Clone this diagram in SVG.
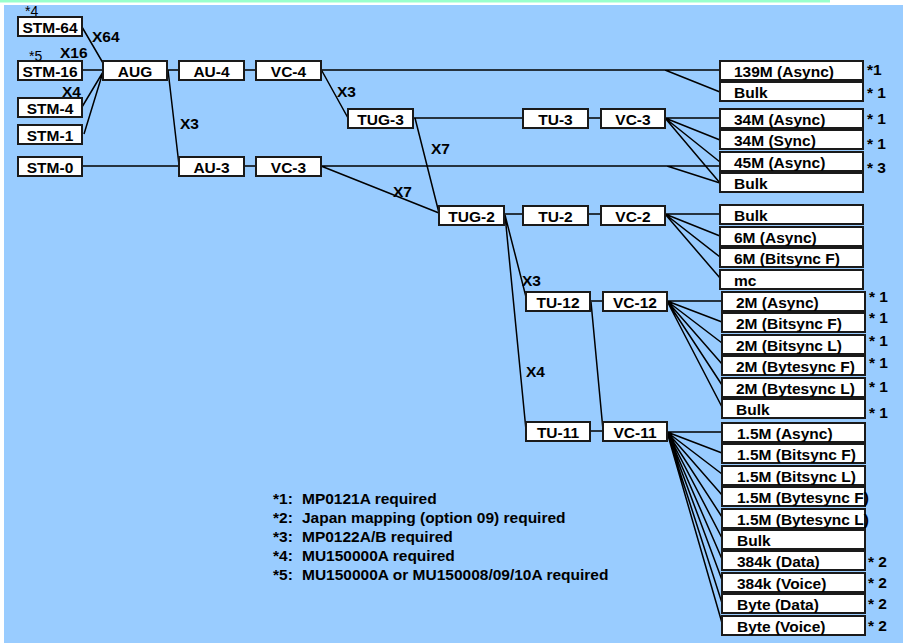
<svg xmlns="http://www.w3.org/2000/svg" width="903" height="643" viewBox="0 0 903 643">
<style>
.b{fill:#fff;stroke:#1a1a1a;stroke-width:2}
.t{font-family:"Liberation Sans",Arial,sans-serif;font-weight:bold;font-size:15.5px;fill:#000}
.m{text-anchor:middle}
.n{font-family:"Liberation Sans",Arial,sans-serif;font-size:14px;fill:#000}
#connectors path{stroke:#000;stroke-width:1.5;fill:none}
</style>
<rect x="0" y="0" width="903" height="643" fill="#fff"/>
<rect x="0" y="0" width="830" height="2.5" fill="#99ffcc"/>
<rect x="4" y="5" width="899" height="638" fill="#99ccff"/>
<g id="connectors">
<path d="M82,27 L103,63 M82,70 H103 M82,107 L103,72 M84,134 L103,72"/>
<path d="M167,70 H179 M168,70 L179,165 M82,166 H179 M244,70 H256 M244,166 H256"/>
<path d="M321,70 H720 M665,70 L720,92 M322,71 L348,118"/>
<path d="M413,118 H523 M588,118 H601 M415,118 L439,213"/>
<path d="M321,166 H720 M667,166 L720,183 M321,166 L439,213"/>
<path d="M665,118 H720 M665,118 L720,140 M665,118 L720,162 M665,118 L720,183"/>
<path d="M504,214 H523 M588,214 H601"/>
<path d="M665,214 H720 M665,214 L720,236 M665,214 L720,257 M665,214 L720,278"/>
<path d="M505,215 L526,297 M505,215 L526,430 M590,301 H603 M591,302 L603,430 M590,431 H603"/>
<path d="M667,301 H722 M667,301 L722,322 M667,301 L722,343 M667,301 L722,364 M667,301 L722,385 M667,301 L722,407"/>
<path d="M667,432 H722 M667,432 L722,453 M667,432 L722,474 M667,432 L722,495 M667,432 L722,517 M667,432 L722,538 M667,432 L722,559 M667,432 L722,580 M667,432 L722,603 M667,432 L722,623"/>
</g>
<g id="stm64"><rect class="b" x="18" y="17" width="64" height="19"/><text class="t m" x="50" y="33">STM-64</text></g>
<g id="stm16"><rect class="b" x="18" y="61" width="64" height="19"/><text class="t m" x="50" y="77">STM-16</text></g>
<g id="stm4"><rect class="b" x="18" y="98" width="64" height="19"/><text class="t m" x="50" y="114">STM-4</text></g>
<g id="stm1"><rect class="b" x="18" y="125" width="64" height="19"/><text class="t m" x="50" y="141">STM-1</text></g>
<g id="stm0"><rect class="b" x="18" y="157" width="64" height="19"/><text class="t m" x="50" y="173">STM-0</text></g>
<g id="aug"><rect class="b" x="103" y="61" width="64" height="19"/><text class="t m" x="135" y="77">AUG</text></g>
<g id="au4"><rect class="b" x="179" y="61" width="65" height="19"/><text class="t m" x="211.5" y="77">AU-4</text></g>
<g id="vc4"><rect class="b" x="256" y="61" width="65" height="19"/><text class="t m" x="288.5" y="77">VC-4</text></g>
<g id="au3"><rect class="b" x="179" y="157" width="65" height="19"/><text class="t m" x="211.5" y="173">AU-3</text></g>
<g id="vc3a"><rect class="b" x="256" y="157" width="65" height="19"/><text class="t m" x="288.5" y="173">VC-3</text></g>
<g id="tug3"><rect class="b" x="348" y="109" width="65" height="19"/><text class="t m" x="380.5" y="125">TUG-3</text></g>
<g id="tu3"><rect class="b" x="523" y="109" width="65" height="19"/><text class="t m" x="555.5" y="125">TU-3</text></g>
<g id="vc3b"><rect class="b" x="601" y="109" width="64" height="19"/><text class="t m" x="633" y="125">VC-3</text></g>
<g id="tug2"><rect class="b" x="439" y="206" width="65" height="19"/><text class="t m" x="471.5" y="222">TUG-2</text></g>
<g id="tu2"><rect class="b" x="523" y="206" width="65" height="19"/><text class="t m" x="555.5" y="222">TU-2</text></g>
<g id="vc2"><rect class="b" x="601" y="206" width="64" height="19"/><text class="t m" x="633" y="222">VC-2</text></g>
<g id="tu12"><rect class="b" x="526" y="292" width="64" height="19"/><text class="t m" x="558" y="308">TU-12</text></g>
<g id="vc12"><rect class="b" x="603" y="292" width="64" height="19"/><text class="t m" x="635" y="308">VC-12</text></g>
<g id="tu11"><rect class="b" x="526" y="422" width="64" height="19"/><text class="t m" x="558" y="438">TU-11</text></g>
<g id="vc11"><rect class="b" x="603" y="422" width="64" height="19"/><text class="t m" x="635" y="438">VC-11</text></g>
<g id="r139m"><rect class="b" x="720" y="61" width="143" height="19"/><text class="t" x="734" y="77">139M (Async)</text></g>
<g id="rbulk1"><rect class="b" x="720" y="82" width="143" height="19"/><text class="t" x="734" y="98">Bulk</text></g>
<g id="r34ma"><rect class="b" x="720" y="109" width="143" height="19"/><text class="t" x="734" y="125">34M (Async)</text></g>
<g id="r34ms"><rect class="b" x="720" y="130" width="143" height="19"/><text class="t" x="734" y="146">34M (Sync)</text></g>
<g id="r45m"><rect class="b" x="720" y="152" width="143" height="19"/><text class="t" x="734" y="168">45M (Async)</text></g>
<g id="rbulk2"><rect class="b" x="720" y="173" width="143" height="19"/><text class="t" x="734" y="189">Bulk</text></g>
<g id="rbulk3"><rect class="b" x="720" y="205" width="143" height="19"/><text class="t" x="734" y="221">Bulk</text></g>
<g id="r6ma"><rect class="b" x="720" y="227" width="143" height="19"/><text class="t" x="734" y="243">6M (Async)</text></g>
<g id="r6mb"><rect class="b" x="720" y="248" width="143" height="19"/><text class="t" x="734" y="264">6M (Bitsync F)</text></g>
<g id="rmc"><rect class="b" x="720" y="270" width="143" height="19"/><text class="t" x="734" y="286">mc</text></g>
<g id="r2ma"><rect class="b" x="722" y="292" width="143" height="19"/><text class="t" x="736" y="308">2M (Async)</text></g>
<g id="r2mbf"><rect class="b" x="722" y="313" width="143" height="19"/><text class="t" x="736" y="329">2M (Bitsync F)</text></g>
<g id="r2mbl"><rect class="b" x="722" y="335" width="143" height="19"/><text class="t" x="736" y="351">2M (Bitsync L)</text></g>
<g id="r2myf"><rect class="b" x="722" y="356" width="143" height="19"/><text class="t" x="736" y="372">2M (Bytesync F)</text></g>
<g id="r2myl"><rect class="b" x="722" y="378" width="143" height="19"/><text class="t" x="736" y="394">2M (Bytesync L)</text></g>
<g id="rbulk4"><rect class="b" x="722" y="399" width="143" height="19"/><text class="t" x="736" y="415">Bulk</text></g>
<g id="r15a"><rect class="b" x="722" y="423" width="143" height="19"/><text class="t" x="737" y="439">1.5M (Async)</text></g>
<g id="r15bf"><rect class="b" x="722" y="444" width="143" height="19"/><text class="t" x="737" y="460">1.5M (Bitsync F)</text></g>
<g id="r15bl"><rect class="b" x="722" y="466" width="143" height="19"/><text class="t" x="737" y="482">1.5M (Bitsync L)</text></g>
<g id="r15yf"><rect class="b" x="722" y="487" width="143" height="19"/><text class="t" x="737" y="503">1.5M (Bytesync F)</text></g>
<g id="r15yl"><rect class="b" x="722" y="509" width="143" height="19"/><text class="t" x="737" y="525">1.5M (Bytesync L)</text></g>
<g id="rbulk5"><rect class="b" x="722" y="530" width="143" height="19"/><text class="t" x="737" y="546">Bulk</text></g>
<g id="r384d"><rect class="b" x="722" y="551" width="143" height="19"/><text class="t" x="737" y="567">384k (Data)</text></g>
<g id="r384v"><rect class="b" x="722" y="573" width="143" height="19"/><text class="t" x="737" y="589">384k (Voice)</text></g>
<g id="rbyted"><rect class="b" x="722" y="594" width="143" height="19"/><text class="t" x="737" y="610">Byte (Data)</text></g>
<g id="rbytev"><rect class="b" x="722" y="616" width="143" height="19"/><text class="t" x="737" y="632">Byte (Voice)</text></g>
<g id="labels">
<text class="n" x="25" y="16">*4</text>
<text class="n" x="29" y="61">*5</text>
<text class="t" x="92" y="42">X64</text>
<text class="t" x="60" y="58">X16</text>
<text class="t" x="62" y="97">X4</text>
<text class="t" x="180" y="129">X3</text>
<text class="t" x="337" y="97">X3</text>
<text class="t" x="431" y="154">X7</text>
<text class="t" x="393" y="197">X7</text>
<text class="t" x="522" y="286">X3</text>
<text class="t" x="526" y="377">X4</text>
<text class="t" x="867" y="75">*1</text>
<text class="t" x="867" y="98">* 1</text>
<text class="t" x="867" y="124">* 1</text>
<text class="t" x="867" y="149">* 1</text>
<text class="t" x="867" y="173">* 3</text>
<text class="t" x="869" y="302">* 1</text>
<text class="t" x="869" y="323">* 1</text>
<text class="t" x="869" y="346">* 1</text>
<text class="t" x="869" y="368">* 1</text>
<text class="t" x="869" y="392">* 1</text>
<text class="t" x="869" y="418">* 1</text>
<text class="t" x="868" y="567">* 2</text>
<text class="t" x="868" y="588">* 2</text>
<text class="t" x="868" y="609">* 2</text>
<text class="t" x="868" y="631">* 2</text>
</g>
<g id="footnotes">
<text class="t" x="273" y="504">*1:</text><text class="t" x="302" y="504">MP0121A required</text>
<text class="t" x="273" y="523">*2:</text><text class="t" x="302" y="523">Japan mapping (option 09) required</text>
<text class="t" x="273" y="542">*3:</text><text class="t" x="302" y="542">MP0122A/B required</text>
<text class="t" x="273" y="561">*4:</text><text class="t" x="302" y="561">MU150000A required</text>
<text class="t" x="273" y="580">*5:</text><text class="t" x="302" y="580">MU150000A or MU150008/09/10A required</text>
</g>
</svg>
